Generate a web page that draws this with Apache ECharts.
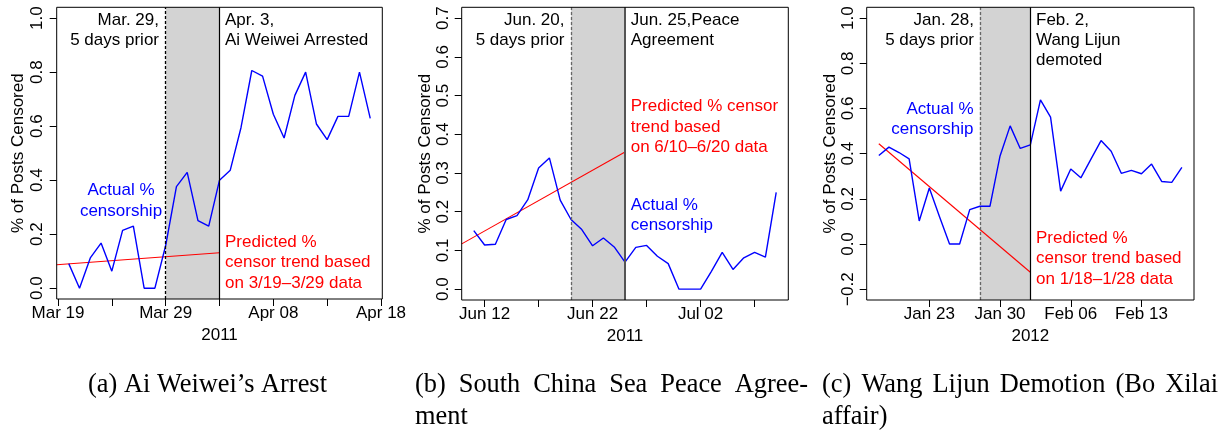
<!DOCTYPE html>
<html><head><meta charset="utf-8">
<script src="https://cdn.jsdelivr.net/npm/echarts@6/dist/echarts.min.js"></script>
<style>html,body{margin:0;padding:0;background:#fff}#c{width:1229px;height:430px}</style>
</head><body><div id="c"></div>
<script>
// ---------- Panel A: Ai Weiwei's Arrest (day 0 = 2011-03-20) ----------
const valuesA = [0.091,0.000,0.112,0.167,0.063,0.214,0.230,0.000,0.000,0.158,0.376,0.429,0.250,0.230,0.400,0.437,0.595,0.806,0.785,0.644,0.556,0.714,0.800,0.608,0.550,0.636,0.636,0.800,0.629];
const trendA = [[-1.12,0.087],[14,0.131]];
const eventsA = [9,14];                 // Mar 29, Apr 3
const tickDaysA = [-1,4,9,14,19,24,29];
const labelDaysA = [-1,9,19,29];
const labelTextA = ['Mar 19','Mar 29','Apr 08','Apr 18'];
const yTicksA = [0,0.2,0.4,0.6,0.8,1.0];

// ---------- Panel B: South China Sea Peace Agreement (day 0 = 2011-06-11) ----------
const valuesB = [0.151,0.114,0.116,0.180,0.190,0.231,0.313,0.339,0.230,0.180,0.154,0.112,0.132,0.109,0.070,0.108,0.113,0.085,0.066,0.000,0.000,0.000,0.046,0.095,0.051,0.081,0.095,0.083,0.250];
const trendB = [[-1.12,0.117],[14,0.354]];
const eventsB = [9,14];                 // Jun 20, Jun 25
const tickDaysB = [1,6,11,16,21,26];
const labelDaysB = [1,11,21];
const labelTextB = ['Jun 12','Jun 22','Jul 02'];
const yTicksB = [0,0.1,0.2,0.3,0.4,0.5,0.6,0.7];

// ---------- Panel C: Wang Lijun Demotion (day 0 = 2012-01-18) ----------
const valuesC = [0.392,0.429,0.405,0.377,0.102,0.248,0.122,0.000,0.000,0.152,0.167,0.167,0.390,0.523,0.423,0.439,0.638,0.562,0.234,0.332,0.293,0.376,0.458,0.411,0.313,0.326,0.311,0.354,0.277,0.273,0.339];
const trendC = [[0,0.444],[15,-0.125]];
const eventsC = [10,15];                // Jan 28, Feb 2
const tickDaysC = [5,12,19,26];
const labelDaysC = [5,12,19,26];
const labelTextC = ['Jan 23','Jan 30','Feb 06','Feb 13'];
const yTicksC = [-0.2,0,0.2,0.4,0.6,0.8,1.0];

const SANS = 'Liberation Sans, Arial, Helvetica, sans-serif';
const SERIF = 'Liberation Serif, Times New Roman, serif';
const FS = 17;

const panels = [
  {grid:{left:56.7,top:7.3,width:325.6,height:291.7}, xMin:-1.12, xMax:29.12, yMin:-0.04, yMax:1.04,
   values:valuesA, trend:trendA, events:eventsA, ticks:tickDaysA, labDays:labelDaysA, labText:labelTextA, yTicks:yTicksA,
   year:'2011', priorColor:'#000', eventColor:'#000', eventWidth:1.2, yMargin:11, yGap:30},
  {grid:{left:461.7,top:7.3,width:326.6,height:292.7}, xMin:-1.12, xMax:29.12, yMin:-0.028, yMax:0.728,
   values:valuesB, trend:trendB, events:eventsB, ticks:tickDaysB, labDays:labelDaysB, labText:labelTextB, yTicks:yTicksB,
   year:'2011', priorColor:'#666', eventColor:'#555', eventWidth:2, yMargin:10, yGap:28},
  {grid:{left:866.7,top:7.3,width:327.3,height:292.7}, xMin:-1.2, xMax:31.2, yMin:-0.248, yMax:1.048,
   values:valuesC, trend:trendC, events:eventsC, ticks:tickDaysC, labDays:labelDaysC, labText:labelTextC, yTicks:yTicksC,
   year:'2012', priorColor:'#666', eventColor:'#000', eventWidth:1.2, yMargin:10, yGap:28}
];

const grid = [], xAxis = [], yAxis = [], series = [], graphic = [];
panels.forEach((p, i) => {
  grid.push(Object.assign({show:false, containLabel:false}, p.grid));
  xAxis.push({
    type:'value', gridIndex:i, min:p.xMin, max:p.xMax, position:'bottom',
    name:p.year, nameLocation:'middle', nameGap:25,
    nameTextStyle:{fontFamily:SANS, fontSize:FS, color:'#000'},
    axisLine:{show:false, onZero:false}, splitLine:{show:false},
    axisTick:{show:true, inside:false, length:7, lineStyle:{color:'#000', width:1}, customValues:p.ticks},
    axisLabel:{show:true, margin:6, fontFamily:SANS, fontSize:FS, color:'#000', customValues:p.labDays,
      formatter:(v)=>{const k=p.labDays.findIndex(d=>Math.abs(d-v)<1e-6); return k>=0?p.labText[k]:'';}}
  });
  yAxis.push({
    type:'value', gridIndex:i, min:p.yMin, max:p.yMax, position:'left',
    name:'% of Posts Censored', nameLocation:'middle', nameGap:p.yGap, nameRotate:90,
    nameTextStyle:{fontFamily:SANS, fontSize:FS, color:'#000'},
    axisLine:{show:false, onZero:false}, splitLine:{show:false},
    axisTick:{show:true, inside:false, length:7, lineStyle:{color:'#000', width:1}, customValues:p.yTicks},
    axisLabel:{show:true, rotate:90, margin:p.yMargin, fontFamily:SANS, fontSize:FS, color:'#000', customValues:p.yTicks,
      formatter:(v)=>{const s=Math.abs(v).toFixed(1); return v< -1e-9 ? '\u2212'+s : s;}}
  });
  // background: shaded window + vertical reference lines
  series.push({
    type:'line', xAxisIndex:i, yAxisIndex:i, data:[], silent:true, animation:false,
    markArea:{silent:true, itemStyle:{color:'#D3D3D3'}, label:{show:false},
      data:[[{xAxis:p.events[0]},{xAxis:p.events[1]}]]},
    markLine:{silent:true, symbol:['none','none'], label:{show:false}, animation:false,
      data:[
        {xAxis:p.events[0], lineStyle:{type:[3,2], color:p.priorColor, width:1.3}},
        {xAxis:p.events[1], lineStyle:{type:'solid', color:p.eventColor, width:p.eventWidth}}
      ]}
  });
  // predicted trend
  series.push({
    type:'line', xAxisIndex:i, yAxisIndex:i, data:p.trend, showSymbol:false, symbol:'none',
    lineStyle:{color:'#FF0000', width:1.1}, animation:false, silent:true, clip:true, z:3
  });
  // actual censorship
  series.push({
    type:'line', xAxisIndex:i, yAxisIndex:i, data:p.values.map((v,k)=>[k,v]), showSymbol:false, symbol:'none',
    lineStyle:{color:'#0000FF', width:1.4}, animation:false, silent:true, clip:true, z:4
  });
  // plot box
  graphic.push({type:'rect', z:100, silent:true,
    shape:{x:p.grid.left, y:p.grid.top, width:p.grid.width, height:p.grid.height},
    style:{fill:'none', stroke:'#000', lineWidth:1}});
});

function txt(s, x, y, align, color, font){
  graphic.push({type:'text', x:x, y:y, z:110, silent:true,
    style:{text:s, fill:color||'#000', font:font||(FS+'px '+SANS), align:align||'left', verticalAlign:'middle'}});
}
const L = 20.4;
// Panel A annotations
txt('Mar. 29,', 159, 20, 'right'); txt('5 days prior', 159, 20+L, 'right');
txt('Apr. 3,', 225, 20); txt('Ai Weiwei Arrested', 225, 20+L);
txt('Actual %', 121, 190.7, 'center', '#0000FF'); txt('censorship', 121, 190.7+L, 'center', '#0000FF');
txt('Predicted %', 225, 242.3, 'left', '#FF0000'); txt('censor trend based', 225, 242.3+L, 'left', '#FF0000'); txt('on 3/19\u20133/29 data', 225, 242.3+2*L, 'left', '#FF0000');
// Panel B annotations
txt('Jun. 20,', 564.5, 20, 'right'); txt('5 days prior', 564.5, 20+L, 'right');
txt('Jun. 25,Peace', 630.7, 20); txt('Agreement', 630.7, 20+L);
txt('Predicted % censor', 630.7, 106.7, 'left', '#FF0000'); txt('trend based', 630.7, 106.7+L, 'left', '#FF0000'); txt('on 6/10\u20136/20 data', 630.7, 106.7+2*L, 'left', '#FF0000');
txt('Actual %', 630.7, 205, 'left', '#0000FF'); txt('censorship', 630.7, 205+L, 'left', '#0000FF');
// Panel C annotations
txt('Jan. 28,', 974, 20, 'right'); txt('5 days prior', 974, 20+L, 'right');
txt('Feb. 2,', 1036, 20); txt('Wang Lijun', 1036, 20+L); txt('demoted', 1036, 20+2*L);
txt('Actual %', 973.5, 109, 'right', '#0000FF'); txt('censorship', 973.5, 109+L, 'right', '#0000FF');
txt('Predicted %', 1036, 238.3, 'left', '#FF0000'); txt('censor trend based', 1036, 238.3+L, 'left', '#FF0000'); txt('on 1/18\u20131/28 data', 1036, 238.3+2*L, 'left', '#FF0000');

// Captions (justified lines like the LaTeX subcaptions)
const CF = '26.4px ' + SERIF;
const mctx = document.createElement('canvas').getContext('2d');
mctx.font = CF;
function justify(words, x0, x1, y){
  const w = words.map(s=>mctx.measureText(s).width);
  const total = w.reduce((a,b)=>a+b,0);
  const gap = (x1 - x0 - total)/(words.length-1);
  let x = x0;
  words.forEach((s,k)=>{ txt(s, x, y, 'left', '#000', CF); x += w[k] + gap; });
}
txt('(a) Ai Weiwei\u2019s Arrest', 88, 385, 'left', '#000', CF);
justify(['(b)','South','China','Sea','Peace','Agree-'], 415, 808, 385);
txt('ment', 415, 417.5, 'left', '#000', CF);
justify(['(c)','Wang','Lijun','Demotion','(Bo','Xilai'], 822, 1218, 385);
txt('affair)', 822, 417.5, 'left', '#000', CF);

const chart = echarts.init(document.getElementById('c'), null, {renderer:'canvas'});
chart.setOption({animation:false, backgroundColor:'#fff', grid, xAxis, yAxis, series, graphic});
</script></body></html>
